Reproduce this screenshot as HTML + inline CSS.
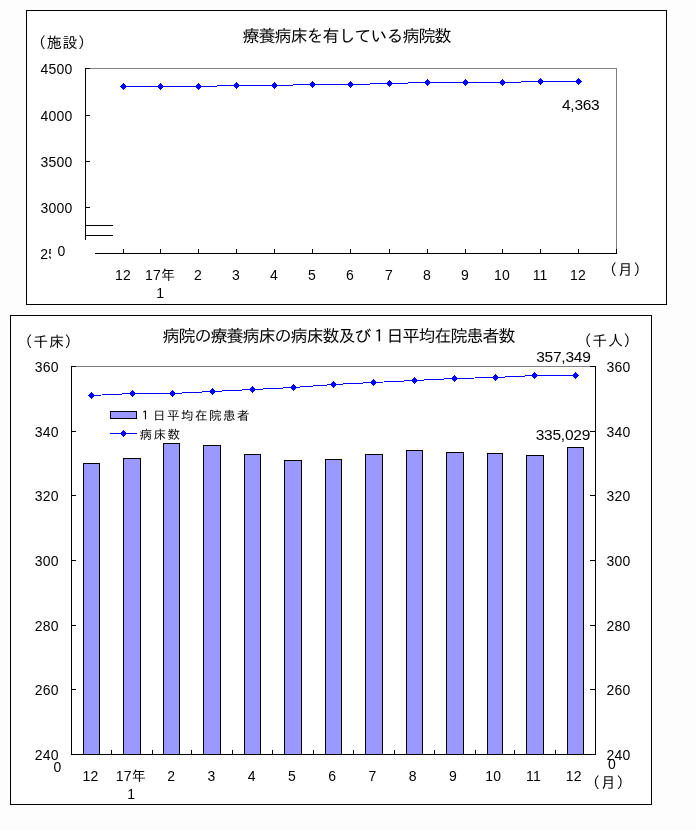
<!DOCTYPE html>
<html lang="ja"><head><meta charset="utf-8"><title>療養病床を有している病院数</title>
<style>html,body{margin:0;padding:0;background:#fdfdfd;}svg{display:block;}text{font-family:"Liberation Sans", "IPAGothic", "Noto Sans CJK JP", sans-serif;fill:#000;}.t16{font-size:17px;letter-spacing:-1px;}.t15{font-size:15px;}.t15s{font-size:15px;letter-spacing:.7px;}.t14{font-size:14px;letter-spacing:.2px;}.t15d{font-size:15.5px;letter-spacing:-.25px;}.t11{font-size:12.5px;letter-spacing:1.5px;}.ln{stroke:#000;stroke-width:1;fill:none;}.g{stroke:#808080;stroke-width:1;fill:none;}.s{stroke:#0000ff;stroke-width:1;fill:none;}.m{fill:#0000ff;stroke:none;}.b{fill:#9999ff;stroke:#000;stroke-width:1;}</style></head><body>
<svg width="696" height="830" viewBox="0 0 696 830" shape-rendering="crispEdges">
<rect x="0" y="0" width="696" height="830" fill="#fdfdfd"/>
<rect x="26.5" y="10.5" width="640" height="294" fill="#fff" stroke="#000"/>
<text class="t16" x="346.5" y="41.5" text-anchor="middle">療養病床を有している病院数</text>
<text class="t15s" x="31" y="48" text-anchor="start">（施設）</text>
<line class="g" x1="85" y1="68.5" x2="617" y2="68.5"/>
<line class="g" x1="616.5" y1="68" x2="616.5" y2="254"/>
<line class="ln" x1="85.5" y1="68" x2="85.5" y2="240"/>
<line class="ln" x1="95" y1="253.5" x2="617" y2="253.5"/>
<line class="ln" x1="85" y1="68.5" x2="90" y2="68.5"/>
<text class="t14" x="72.5" y="74" text-anchor="end">4500</text>
<line class="ln" x1="85" y1="115.5" x2="90" y2="115.5"/>
<text class="t14" x="72.5" y="121" text-anchor="end">4000</text>
<line class="ln" x1="85" y1="161.5" x2="90" y2="161.5"/>
<text class="t14" x="72.5" y="167" text-anchor="end">3500</text>
<line class="ln" x1="85" y1="207.5" x2="90" y2="207.5"/>
<text class="t14" x="72.5" y="213" text-anchor="end">3000</text>
<text class="t14" x="40.3" y="259" text-anchor="start">25</text>
<rect x="51" y="240" width="44" height="22" fill="#fff"/>
<text class="t14" x="57.5" y="256" text-anchor="start">0</text>
<line class="ln" x1="85" y1="225.5" x2="113" y2="225.5"/>
<line class="ln" x1="85" y1="235.5" x2="113" y2="235.5"/>
<line class="ln" x1="123.5" y1="249" x2="123.5" y2="254"/>
<line class="ln" x1="160.5" y1="249" x2="160.5" y2="254"/>
<line class="ln" x1="198.5" y1="249" x2="198.5" y2="254"/>
<line class="ln" x1="236.5" y1="249" x2="236.5" y2="254"/>
<line class="ln" x1="274.5" y1="249" x2="274.5" y2="254"/>
<line class="ln" x1="312.5" y1="249" x2="312.5" y2="254"/>
<line class="ln" x1="350.5" y1="249" x2="350.5" y2="254"/>
<line class="ln" x1="389.5" y1="249" x2="389.5" y2="254"/>
<line class="ln" x1="427.5" y1="249" x2="427.5" y2="254"/>
<line class="ln" x1="465.5" y1="249" x2="465.5" y2="254"/>
<line class="ln" x1="502.5" y1="249" x2="502.5" y2="254"/>
<line class="ln" x1="540.5" y1="249" x2="540.5" y2="254"/>
<line class="ln" x1="578.5" y1="249" x2="578.5" y2="254"/>
<line class="ln" x1="616.5" y1="249" x2="616.5" y2="254"/>
<text class="t14" x="123.1" y="280" text-anchor="middle">12</text>
<text class="t14" x="160.1" y="280" text-anchor="middle">17年</text>
<text class="t14" x="198.1" y="280" text-anchor="middle">2</text>
<text class="t14" x="236.1" y="280" text-anchor="middle">3</text>
<text class="t14" x="274.1" y="280" text-anchor="middle">4</text>
<text class="t14" x="312.1" y="280" text-anchor="middle">5</text>
<text class="t14" x="350.1" y="280" text-anchor="middle">6</text>
<text class="t14" x="389.1" y="280" text-anchor="middle">7</text>
<text class="t14" x="427.1" y="280" text-anchor="middle">8</text>
<text class="t14" x="465.1" y="280" text-anchor="middle">9</text>
<text class="t14" x="502.1" y="280" text-anchor="middle">10</text>
<text class="t14" x="540.1" y="280" text-anchor="middle">11</text>
<text class="t14" x="578.1" y="280" text-anchor="middle">12</text>
<text class="t14" x="160.3" y="298" text-anchor="middle">1</text>
<text class="t15s" x="602" y="275" text-anchor="start">（月）</text>
<polyline class="s" points="123.5,86.5 160.5,86.5 198.5,86.5 236.5,85.5 274.5,85.5 312.5,84.5 350.5,84.5 389.5,83.5 427.5,82.5 465.5,82.5 502.5,82.5 540.5,81.5 578.5,81.5"/>
<path class="m" d="M123 83h1v1h-1zM122 84h3v1h-3zM121 85h5v1h-5zM120 86h7v1h-7zM121 87h5v1h-5zM122 88h3v1h-3zM123 89h1v1h-1z"/>
<path class="m" d="M160 83h1v1h-1zM159 84h3v1h-3zM158 85h5v1h-5zM157 86h7v1h-7zM158 87h5v1h-5zM159 88h3v1h-3zM160 89h1v1h-1z"/>
<path class="m" d="M198 83h1v1h-1zM197 84h3v1h-3zM196 85h5v1h-5zM195 86h7v1h-7zM196 87h5v1h-5zM197 88h3v1h-3zM198 89h1v1h-1z"/>
<path class="m" d="M236 82h1v1h-1zM235 83h3v1h-3zM234 84h5v1h-5zM233 85h7v1h-7zM234 86h5v1h-5zM235 87h3v1h-3zM236 88h1v1h-1z"/>
<path class="m" d="M274 82h1v1h-1zM273 83h3v1h-3zM272 84h5v1h-5zM271 85h7v1h-7zM272 86h5v1h-5zM273 87h3v1h-3zM274 88h1v1h-1z"/>
<path class="m" d="M312 81h1v1h-1zM311 82h3v1h-3zM310 83h5v1h-5zM309 84h7v1h-7zM310 85h5v1h-5zM311 86h3v1h-3zM312 87h1v1h-1z"/>
<path class="m" d="M350 81h1v1h-1zM349 82h3v1h-3zM348 83h5v1h-5zM347 84h7v1h-7zM348 85h5v1h-5zM349 86h3v1h-3zM350 87h1v1h-1z"/>
<path class="m" d="M389 80h1v1h-1zM388 81h3v1h-3zM387 82h5v1h-5zM386 83h7v1h-7zM387 84h5v1h-5zM388 85h3v1h-3zM389 86h1v1h-1z"/>
<path class="m" d="M427 79h1v1h-1zM426 80h3v1h-3zM425 81h5v1h-5zM424 82h7v1h-7zM425 83h5v1h-5zM426 84h3v1h-3zM427 85h1v1h-1z"/>
<path class="m" d="M465 79h1v1h-1zM464 80h3v1h-3zM463 81h5v1h-5zM462 82h7v1h-7zM463 83h5v1h-5zM464 84h3v1h-3zM465 85h1v1h-1z"/>
<path class="m" d="M502 79h1v1h-1zM501 80h3v1h-3zM500 81h5v1h-5zM499 82h7v1h-7zM500 83h5v1h-5zM501 84h3v1h-3zM502 85h1v1h-1z"/>
<path class="m" d="M540 78h1v1h-1zM539 79h3v1h-3zM538 80h5v1h-5zM537 81h7v1h-7zM538 82h5v1h-5zM539 83h3v1h-3zM540 84h1v1h-1z"/>
<path class="m" d="M578 78h1v1h-1zM577 79h3v1h-3zM576 80h5v1h-5zM575 81h7v1h-7zM576 82h5v1h-5zM577 83h3v1h-3zM578 84h1v1h-1z"/>
<text class="t15d" x="599.5" y="110" text-anchor="end">4,363</text>
<rect x="10.5" y="315.5" width="641" height="489" fill="#fff" stroke="#000"/>
<text class="t16" x="338.5" y="341.5" text-anchor="middle">病院の療養病床の病床数及び１日平均在院患者数</text>
<text class="t15s" x="17.5" y="347" text-anchor="start">（千床）</text>
<text class="t15s" x="576.5" y="346" text-anchor="start">（千人）</text>
<line class="g" x1="71" y1="366.5" x2="596" y2="366.5"/>
<line class="ln" x1="71.5" y1="366" x2="71.5" y2="755"/>
<line class="ln" x1="595.5" y1="366" x2="595.5" y2="755"/>
<line class="ln" x1="71" y1="754.5" x2="596" y2="754.5"/>
<line class="ln" x1="71" y1="366.5" x2="76" y2="366.5"/>
<line class="ln" x1="590" y1="366.5" x2="596" y2="366.5"/>
<text class="t14" x="58.8" y="372" text-anchor="end">360</text>
<text class="t14" x="606.5" y="372" text-anchor="start">360</text>
<line class="ln" x1="71" y1="431.5" x2="76" y2="431.5"/>
<line class="ln" x1="590" y1="431.5" x2="596" y2="431.5"/>
<text class="t14" x="58.8" y="437" text-anchor="end">340</text>
<text class="t14" x="606.5" y="437" text-anchor="start">340</text>
<line class="ln" x1="71" y1="495.5" x2="76" y2="495.5"/>
<line class="ln" x1="590" y1="495.5" x2="596" y2="495.5"/>
<text class="t14" x="58.8" y="501" text-anchor="end">320</text>
<text class="t14" x="606.5" y="501" text-anchor="start">320</text>
<line class="ln" x1="71" y1="560.5" x2="76" y2="560.5"/>
<line class="ln" x1="590" y1="560.5" x2="596" y2="560.5"/>
<text class="t14" x="58.8" y="566" text-anchor="end">300</text>
<text class="t14" x="606.5" y="566" text-anchor="start">300</text>
<line class="ln" x1="71" y1="625.5" x2="76" y2="625.5"/>
<line class="ln" x1="590" y1="625.5" x2="596" y2="625.5"/>
<text class="t14" x="58.8" y="631" text-anchor="end">280</text>
<text class="t14" x="606.5" y="631" text-anchor="start">280</text>
<line class="ln" x1="71" y1="689.5" x2="76" y2="689.5"/>
<line class="ln" x1="590" y1="689.5" x2="596" y2="689.5"/>
<text class="t14" x="58.8" y="695" text-anchor="end">260</text>
<text class="t14" x="606.5" y="695" text-anchor="start">260</text>
<text class="t14" x="58.8" y="760" text-anchor="end">240</text>
<text class="t14" x="606.5" y="760" text-anchor="start">240</text>
<text class="t14" x="53.5" y="772" text-anchor="start">0</text>
<text class="t14" x="608" y="769" text-anchor="start">0</text>
<rect class="b" x="83.5" y="463.5" width="16" height="291"/>
<rect class="b" x="123.5" y="458.5" width="17" height="296"/>
<rect class="b" x="163.5" y="443.5" width="16" height="311"/>
<rect class="b" x="203.5" y="445.5" width="17" height="309"/>
<rect class="b" x="244.5" y="454.5" width="16" height="300"/>
<rect class="b" x="284.5" y="460.5" width="17" height="294"/>
<rect class="b" x="325.5" y="459.5" width="16" height="295"/>
<rect class="b" x="365.5" y="454.5" width="17" height="300"/>
<rect class="b" x="406.5" y="450.5" width="16" height="304"/>
<rect class="b" x="446.5" y="452.5" width="17" height="302"/>
<rect class="b" x="487.5" y="453.5" width="15" height="301"/>
<rect class="b" x="526.5" y="455.5" width="17" height="299"/>
<rect class="b" x="567.5" y="447.5" width="16" height="307"/>
<line class="ln" x1="111.5" y1="750" x2="111.5" y2="754"/>
<line class="ln" x1="152.5" y1="750" x2="152.5" y2="754"/>
<line class="ln" x1="191.5" y1="750" x2="191.5" y2="754"/>
<line class="ln" x1="232.5" y1="750" x2="232.5" y2="754"/>
<line class="ln" x1="272.5" y1="750" x2="272.5" y2="754"/>
<line class="ln" x1="313.5" y1="750" x2="313.5" y2="754"/>
<line class="ln" x1="353.5" y1="750" x2="353.5" y2="754"/>
<line class="ln" x1="394.5" y1="750" x2="394.5" y2="754"/>
<line class="ln" x1="434.5" y1="750" x2="434.5" y2="754"/>
<line class="ln" x1="475.5" y1="750" x2="475.5" y2="754"/>
<line class="ln" x1="514.5" y1="750" x2="514.5" y2="754"/>
<line class="ln" x1="555.5" y1="750" x2="555.5" y2="754"/>
<text class="t14" x="90.6" y="781" text-anchor="middle">12</text>
<text class="t14" x="130.87" y="781" text-anchor="middle">17年</text>
<text class="t14" x="171.14" y="781" text-anchor="middle">2</text>
<text class="t14" x="211.41" y="781" text-anchor="middle">3</text>
<text class="t14" x="251.68" y="781" text-anchor="middle">4</text>
<text class="t14" x="291.95" y="781" text-anchor="middle">5</text>
<text class="t14" x="332.22" y="781" text-anchor="middle">6</text>
<text class="t14" x="372.49" y="781" text-anchor="middle">7</text>
<text class="t14" x="412.76" y="781" text-anchor="middle">8</text>
<text class="t14" x="453.03" y="781" text-anchor="middle">9</text>
<text class="t14" x="493.3" y="781" text-anchor="middle">10</text>
<text class="t14" x="533.57" y="781" text-anchor="middle">11</text>
<text class="t14" x="573.84" y="781" text-anchor="middle">12</text>
<text class="t14" x="131.3" y="799" text-anchor="middle">1</text>
<text class="t15s" x="585" y="788" text-anchor="start">（月）</text>
<polyline class="s" points="91.5,395.5 132.5,393.5 172.5,393.5 212.5,391.5 252.5,389.5 293.5,387.5 333.5,384.5 373.5,382.5 414.5,380.5 454.5,378.5 495.5,377.5 534.5,375.5 575.5,375.5"/>
<path class="m" d="M91 392h1v1h-1zM90 393h3v1h-3zM89 394h5v1h-5zM88 395h7v1h-7zM89 396h5v1h-5zM90 397h3v1h-3zM91 398h1v1h-1z"/>
<path class="m" d="M132 390h1v1h-1zM131 391h3v1h-3zM130 392h5v1h-5zM129 393h7v1h-7zM130 394h5v1h-5zM131 395h3v1h-3zM132 396h1v1h-1z"/>
<path class="m" d="M172 390h1v1h-1zM171 391h3v1h-3zM170 392h5v1h-5zM169 393h7v1h-7zM170 394h5v1h-5zM171 395h3v1h-3zM172 396h1v1h-1z"/>
<path class="m" d="M212 388h1v1h-1zM211 389h3v1h-3zM210 390h5v1h-5zM209 391h7v1h-7zM210 392h5v1h-5zM211 393h3v1h-3zM212 394h1v1h-1z"/>
<path class="m" d="M252 386h1v1h-1zM251 387h3v1h-3zM250 388h5v1h-5zM249 389h7v1h-7zM250 390h5v1h-5zM251 391h3v1h-3zM252 392h1v1h-1z"/>
<path class="m" d="M293 384h1v1h-1zM292 385h3v1h-3zM291 386h5v1h-5zM290 387h7v1h-7zM291 388h5v1h-5zM292 389h3v1h-3zM293 390h1v1h-1z"/>
<path class="m" d="M333 381h1v1h-1zM332 382h3v1h-3zM331 383h5v1h-5zM330 384h7v1h-7zM331 385h5v1h-5zM332 386h3v1h-3zM333 387h1v1h-1z"/>
<path class="m" d="M373 379h1v1h-1zM372 380h3v1h-3zM371 381h5v1h-5zM370 382h7v1h-7zM371 383h5v1h-5zM372 384h3v1h-3zM373 385h1v1h-1z"/>
<path class="m" d="M414 377h1v1h-1zM413 378h3v1h-3zM412 379h5v1h-5zM411 380h7v1h-7zM412 381h5v1h-5zM413 382h3v1h-3zM414 383h1v1h-1z"/>
<path class="m" d="M454 375h1v1h-1zM453 376h3v1h-3zM452 377h5v1h-5zM451 378h7v1h-7zM452 379h5v1h-5zM453 380h3v1h-3zM454 381h1v1h-1z"/>
<path class="m" d="M495 374h1v1h-1zM494 375h3v1h-3zM493 376h5v1h-5zM492 377h7v1h-7zM493 378h5v1h-5zM494 379h3v1h-3zM495 380h1v1h-1z"/>
<path class="m" d="M534 372h1v1h-1zM533 373h3v1h-3zM532 374h5v1h-5zM531 375h7v1h-7zM532 376h5v1h-5zM533 377h3v1h-3zM534 378h1v1h-1z"/>
<path class="m" d="M575 372h1v1h-1zM574 373h3v1h-3zM573 374h5v1h-5zM572 375h7v1h-7zM573 376h5v1h-5zM574 377h3v1h-3zM575 378h1v1h-1z"/>
<text class="t15d" x="590.5" y="362" text-anchor="end">357,349</text>
<text class="t15d" x="590" y="440" text-anchor="end">335,029</text>
<rect class="b" x="110.5" y="411.5" width="26" height="7"/>
<text class="t11" x="139" y="420" text-anchor="start">１日平均在院患者</text>
<line class="s" x1="110" y1="433.5" x2="137" y2="433.5"/>
<path class="m" d="M123 430h1v1h-1zM122 431h3v1h-3zM121 432h5v1h-5zM120 433h7v1h-7zM121 434h5v1h-5zM122 435h3v1h-3zM123 436h1v1h-1z"/>
<text class="t11" x="139.5" y="438.5" text-anchor="start">病床数</text>
</svg></body></html>
